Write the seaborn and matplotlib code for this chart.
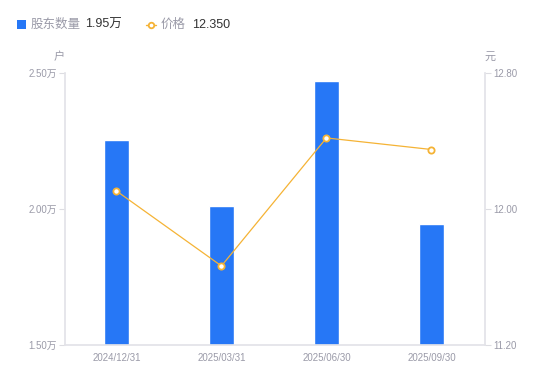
import matplotlib
matplotlib.use("Agg")
import matplotlib.pyplot as plt
import seaborn as sns
import pandas as pd
import numpy as np

dates = ["2024/12/31", "2025/03/31", "2025/06/30", "2025/09/30"]
holders = [2.254, 2.012, 2.471, 1.945]   # 万户
price = [12.106, 11.665, 12.418, 12.350]
left_ticks = [1.50, 2.00, 2.50]
right_ticks = [11.20, 12.00, 12.80]

BLUE = "#2677F6"
ORANGE = "#F5B335"
GREY = "#9A9AA8"
DARK = "#333333"

sns.set_theme(style="white")
plt.rcParams['font.family'] = ['Liberation Sans', 'Noto Sans CJK SC', 'DejaVu Sans']

fig = plt.figure(figsize=(5.5, 3.81), dpi=100)
ax = fig.add_axes([65/550, 36/381, 420/550, 272/381])
df = pd.DataFrame({"date": dates, "holders": holders, "price": price})

sns.barplot(data=df, x="date", y="holders", color=BLUE, width=0.24,
            saturation=1, ax=ax)
ax.set_ylim(1.5, 2.5)
ax.set_xlim(-0.49, 3.51)
ax.set_yticks(left_ticks)
ax.set_yticklabels([f"{v:.2f}万" for v in left_ticks])
ax.set_xlabel("")
ax.set_ylabel("")

ax2 = ax.twinx()
sns.lineplot(data=df, x="date", y="price", color=ORANGE, lw=0.9, ax=ax2,
             marker="o", markersize=4.5, markerfacecolor="white",
             markeredgecolor=ORANGE, markeredgewidth=1.3)
ax2.set_ylim(11.2, 12.8)
ax2.set_yticks(right_ticks)
ax2.set_yticklabels([f"{v:.2f}" for v in right_ticks])
ax2.set_ylabel("")
ax2.set_xlabel("")

for a in (ax, ax2):
    for s in a.spines.values():
        s.set_visible(False)
    a.tick_params(axis="both", colors="#DDDDE2", labelcolor=GREY,
                  labelsize=7, length=4, width=0.8, pad=2)
    a.grid(False)
ax.tick_params(axis="x", length=0, pad=6)
ax.spines["left"].set_visible(True)
ax.spines["left"].set_color("#E3E3E8")
ax.spines["bottom"].set_visible(True)
ax.spines["bottom"].set_color("#E3E3E8")
ax2.spines["right"].set_visible(True)
ax2.spines["right"].set_color("#E3E3E8")

# axis units
fig.text(59/550, 1 - 57/381, "户", ha="center", va="center", fontsize=8, color=GREY)
fig.text(490/550, 1 - 57/381, "元", ha="center", va="center", fontsize=8, color=GREY)

# legend
fig.patches.append(plt.Rectangle((17/550, 1 - 29/381), 9/550, 9/381,
                                 transform=fig.transFigure, color=BLUE, lw=0))
fig.text(31/550, 1 - 24.5/381, "股东数量", ha="left", va="center", fontsize=9, color=GREY)
fig.text(85/550, 1 - 24.5/381, "1.95万", ha="left", va="center", fontsize=9, color=DARK)
fig.lines.append(plt.Line2D([146/550, 156/550], [1 - 24.5/381, 1 - 24.5/381],
                            transform=fig.transFigure, color=ORANGE, lw=1))
fig.lines.append(plt.Line2D([151/550], [1 - 24.5/381], transform=fig.transFigure,
                            color=ORANGE, marker="o", markersize=4,
                            markerfacecolor="white", markeredgewidth=1.3, lw=0))
fig.text(161/550, 1 - 24.5/381, "价格", ha="left", va="center", fontsize=9, color=GREY)
fig.text(192/550, 1 - 24.5/381, "12.350", ha="left", va="center", fontsize=9, color=DARK)

fig.savefig("out.png", dpi=100)
